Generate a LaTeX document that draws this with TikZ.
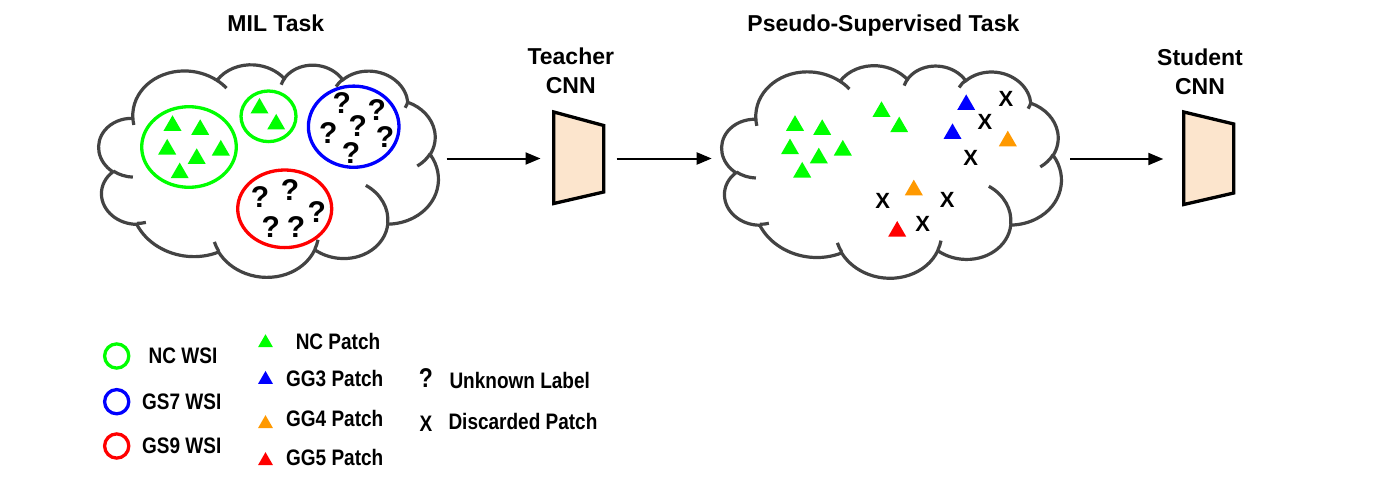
\documentclass[tikz,border=0pt]{standalone}
\usepackage{fontspec}
\setmainfont{Liberation Sans}
\usepackage{graphicx}
\usetikzlibrary{arrows.meta,shapes.geometric}
\definecolor{cloudgray}{HTML}{434343}
\definecolor{gGreen}{HTML}{00FF00}
\definecolor{gBlue}{HTML}{0000FF}
\definecolor{gOrange}{HTML}{FF9900}
\definecolor{gRed}{HTML}{FF0000}
\definecolor{cnnfill}{HTML}{FCE5CD}
\tikzset{
  cld/.style n args={4}{x radius=#1pt, y radius=#2pt,
    start angle={atan2((#1)*sin(-(#3)),(#2)*cos(-(#3)))},
    delta angle={-Mod(atan2((#1)*sin(-(#3)),(#2)*cos(-(#3)))-atan2((#1)*sin(-(#3)-(#4)),(#2)*cos(-(#3)-(#4))),360)}},
  cloudline/.style={draw=cloudgray, line width=3.2pt},
  tri/.style={regular polygon, regular polygon sides=3, minimum size=20.8pt, inner sep=0pt, outer sep=0pt, draw=none},
  ltri/.style={tri, minimum size=17.3pt},
  qm/.style={font=\fontsize{30}{30}\selectfont\bfseries, inner sep=0pt},
  xm/.style={font=\fontsize{22}{22}\selectfont\bfseries, inner sep=0pt},
  title/.style={font=\fontsize{23}{28}\selectfont\bfseries, inner sep=0pt, anchor=base},
  leg/.style={font=\fontsize{19}{19}\selectfont\bfseries, inner sep=0pt, anchor=base},
  cnn/.style={draw=black, line width=3.3pt, fill=cnnfill, line join=miter},
  flow/.style={line width=2pt, -{Triangle[length=15pt,width=12pt]}},
  wsi/.style={line width=3.3pt},
  cloudform/.style={rotate=-6, xscale=0.79005, yscale=0.50069},
  cloud/.pic={
    \draw[cloudline] (-177.00pt,72.30pt)
      arc[cld={67.53}{91.90}{-190.4875}{123.7805}]
      arc[cld={53.33}{72.67}{-144.1024}{89.9452}]
      arc[cld={43.65}{59.45}{-145.8079}{99.7230}]
      arc[cld={48.57}{65.95}{-130.9861}{117.2417}]
      arc[cld={53.33}{72.73}{-78.7089}{109.0269}]
      arc[cld={67.75}{92.20}{-46.2673}{130.2690}]
      arc[cld={57.85}{78.67}{0.6250}{114.0333}]
      arc[cld={67.52}{92.15}{22.4516}{115.1726}]
      arc[cld={77.20}{105.43}{66.2426}{75.7110}]
      arc[cld={43.60}{59.18}{-274.9421}{146.7356}]
      arc[cld={43.45}{59.45}{-246.8285}{152.5189}]
      -- cycle;
    \draw[cloudline]
      (-169.07pt,-45.77pt) arc[cld={43.45}{59.45}{86.7420}{26.4295}]
      (-146.72pt,-132.99pt) arc[cld={43.60}{59.18}{73.6105}{11.4475}]
      (-51.22pt,-174.90pt) arc[cld={67.52}{92.15}{137.6242}{14.0811}]
      (72.27pt,-131.51pt) arc[cld={67.52}{92.15}{6.4533}{15.9984}]
      (125.29pt,-13.54pt) arc[cld={57.85}{78.67}{-70.2924}{70.9174}]
      (201.98pt,62.46pt) arc[cld={53.33}{72.73}{30.3180}{27.7515}]
      (167.24pt,161.74pt) arc[cld={48.57}{65.95}{13.7443}{14.8589}]
      (74.78pt,176.48pt) arc[cld={48.57}{65.95}{-149.1815}{18.1954}]
      (5.41pt,168.80pt) arc[cld={43.65}{59.45}{-163.4943}{17.6864}]
      (-76.00pt,164.08pt) arc[cld={67.53}{91.90}{-66.7070}{12.3194}]
      (-174.73pt,58.11pt) arc[cld={67.53}{91.90}{157.6544}{11.8582}];
  }
}
\begin{document}
\begin{tikzpicture}[x=1pt,y=-1pt]
\useasboundingbox (0,0) rectangle (1378,484);
\fill[white] (0,0) rectangle (1378,484);

% titles
\node[title] (tMIL) at (275.8,31.7) {MIL Task};
\node[title] (tPS) at (883.4,31.7) {Pseudo-Supervised Task};
\node[title] (tTeach) at (570.8,65) {Teacher};
\node[title] (tTeachC) at (570.8,93.3) {CNN};
\node[title] (tStud) at (1200,66) {Student};
\node[title] (tStudC) at (1200,95) {CNN};

% clouds
\pic[cloudform] (cloudL) at (268.1,168.3) {cloud};
\pic[cloudform] (cloudR) at (891.1,169.2) {cloud};

% WSI ellipses in left cloud
\draw[wsi, gGreen] (189,147) ellipse [x radius=47.3pt, y radius=40.3pt];
\draw[wsi, gGreen] (268.5,116.3) ellipse [x radius=27.5pt, y radius=25.3pt];
\draw[wsi, gBlue] (353.7,126.7) ellipse [x radius=45.3pt, y radius=40.6pt];
\draw[wsi, gRed] (284.7,208.8) ellipse [x radius=47pt, y radius=38.8pt];

% left cloud patches
\node[tri, fill=gGreen] (lg1) at (172.5,125.7) {};
\node[tri, fill=gGreen] (lg2) at (200.2,129.7) {};
\node[tri, fill=gGreen] (lg3) at (167.2,149.3) {};
\node[tri, fill=gGreen] (lg4) at (196.7,158.7) {};
\node[tri, fill=gGreen] (lg5) at (220.8,150.3) {};
\node[tri, fill=gGreen] (lg6) at (179.7,173) {};
\node[tri, fill=gGreen] (lg7) at (259.5,108.3) {};
\node[tri, fill=gGreen] (lg8) at (276.2,124.3) {};

\node[qm] (bq1) at (341.7,103.3) {?};
\node[qm] (bq2) at (376.7,110) {?};
\node[qm] (bq3) at (328.3,133.3) {?};
\node[qm] (bq4) at (357.7,126) {?};
\node[qm] (bq5) at (385,136.7) {?};
\node[qm] (bq6) at (351,153.3) {?};

\node[qm] (rq1) at (260,196.7) {?};
\node[qm] (rq2) at (290,190) {?};
\node[qm] (rq3) at (316.7,211.7) {?};
\node[qm] (rq4) at (270.7,226.7) {?};
\node[qm] (rq5) at (296,226.7) {?};

% right cloud patches
\node[tri, fill=gGreen] (rg1) at (795,125.6) {};
\node[tri, fill=gGreen] (rg2) at (822.2,129.7) {};
\node[tri, fill=gGreen] (rg3) at (790,149) {};
\node[tri, fill=gGreen] (rg4) at (818.8,158.1) {};
\node[tri, fill=gGreen] (rg5) at (842.8,150.3) {};
\node[tri, fill=gGreen] (rg6) at (802.2,172.3) {};
\node[tri, fill=gGreen] (rg7) at (881.5,111.7) {};
\node[tri, fill=gGreen] (rg8) at (899.2,127) {};
\node[tri, fill=gBlue] (rb1) at (966.2,104.8) {};
\node[tri, fill=gBlue] (rb2) at (952.5,133.8) {};
\node[tri, fill=gOrange] (ro1) at (1007.8,141.1) {};
\node[tri, fill=gOrange] (ro2) at (913.8,190.1) {};
\node[tri, fill=gRed] (rr1) at (897.2,231.4) {};
\node[xm] (rx1) at (1006,99.3) {X};
\node[xm] (rx2) at (985,121.7) {X};
\node[xm] (rx3) at (970.7,158.3) {X};
\node[xm] (rx4) at (882.7,200.7) {X};
\node[xm] (rx5) at (947.3,200) {X};
\node[xm] (rx6) at (922.7,224) {X};

% CNNs
\draw[cnn] (553.8,112) -- (603.7,125.5) -- (603.7,192) -- (553.8,203.5) -- cycle;
\draw[cnn] (1183.8,112) -- (1233.8,124) -- (1233.8,193) -- (1183.8,204.5) -- cycle;

% arrows
\coordinate (cloudLr) at (446.7,158.5);
\coordinate (teachL) at (540.5,158.5);
\coordinate (teachR) at (616.7,158.5);
\coordinate (cloudRl) at (711.7,158.5);
\coordinate (cloudRr) at (1070,159);
\coordinate (studL) at (1163.3,159);
\draw[flow] (cloudLr) -- (teachL);
\draw[flow] (teachR) -- (cloudRl);
\draw[flow] (cloudRr) -- (studL);

% legend
\draw[wsi, gGreen] (116.7,356) circle [radius=12.1pt];
\draw[wsi, gBlue] (116.7,401.7) circle [radius=12.1pt];
\draw[wsi, gRed] (116.7,446) circle [radius=12.1pt];
\node[leg] (lNC) at (183,363.3) {\scalebox{1}[1.18]{NC WSI}};
\node[leg] (lGS7) at (181.7,409.3) {\scalebox{1}[1.18]{GS7 WSI}};
\node[leg] (lGS9) at (181.7,453.3) {\scalebox{1}[1.18]{GS9 WSI}};

\node[ltri, fill=gGreen] (ltg) at (265.5,342.9) {};
\node[ltri, fill=gBlue] (ltb) at (265.5,379.6) {};
\node[ltri, fill=gOrange] (lto) at (265.5,423.8) {};
\node[ltri, fill=gRed] (ltr) at (265.5,460.8) {};
\node[leg] (lNCP) at (338,349.3) {\scalebox{1}[1.18]{NC Patch}};
\node[leg] (lGG3) at (334.7,386) {\scalebox{1}[1.18]{GG3 Patch}};
\node[leg] (lGG4) at (334.7,426) {\scalebox{1}[1.18]{GG4 Patch}};
\node[leg] (lGG5) at (334.7,465.3) {\scalebox{1}[1.18]{GG5 Patch}};

\node[font=\fontsize{23}{23}\selectfont\bfseries, inner sep=0pt] (lQ) at (426,378.3) {\scalebox{1}[1.18]{?}};
\node[font=\fontsize{19}{19}\selectfont\bfseries, inner sep=0pt] (lX) at (426,423.7) {\scalebox{1}[1.18]{X}};
\node[leg, anchor=base west] (lUnk) at (449.3,388.3) {\scalebox{1}[1.18]{Unknown Label}};
\node[leg, anchor=base west] (lDis) at (448.3,429.3) {\scalebox{1}[1.18]{Discarded Patch}};
\end{tikzpicture}
\end{document}
